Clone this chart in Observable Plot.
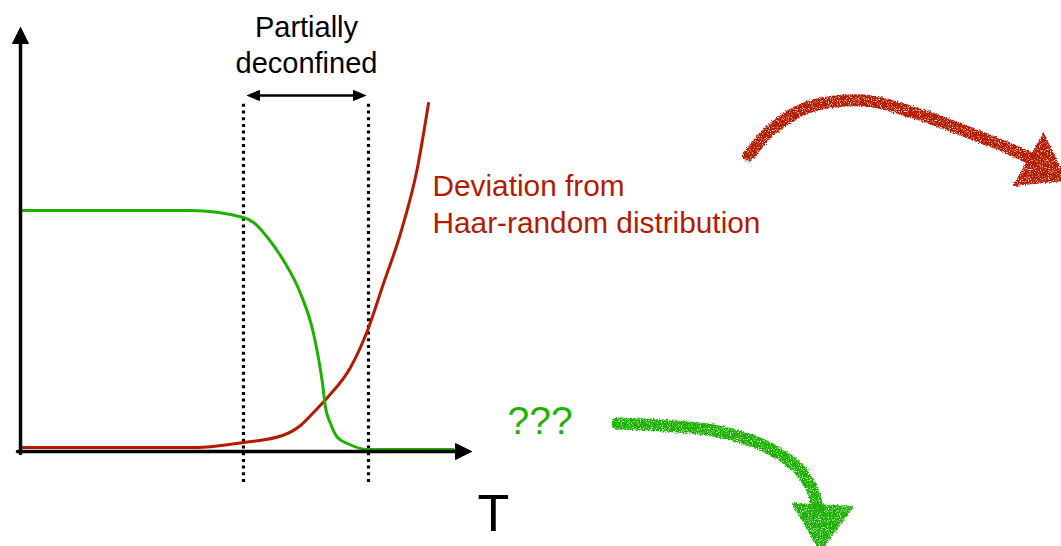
<!DOCTYPE html>
<html>
<head>
<meta charset="utf-8">
<script src="https://cdn.jsdelivr.net/npm/d3@7"></script>
<script src="https://cdn.jsdelivr.net/npm/@observablehq/plot@0.6"></script>
<style>
  html, body { margin: 0; padding: 0; background: #fff; }
  #chart svg { display: block; }
</style>
</head>
<body>
<div id="chart"></div>
<script>
// Schematic: order parameter vs. temperature T, with the partially
// deconfined window marked between two dotted guides.

const GREEN = "#1db100";
const RED = "#b51a00";
const FONT = "Helvetica, 'Liberation Sans', Arial, sans-serif";

// Curves as [T, value] pairs
const greenCurve = [
  [0.02, 2.41], [1.70, 2.41], [2.23, 2.34], [2.33, 2.29], [2.47, 2.14],
  [2.63, 1.91], [2.80, 1.58], [2.93, 1.18], [3.02, 0.68], [3.05, 0.44],
  [3.10, 0.28], [3.17, 0.14], [3.27, 0.08], [3.47, 0.02], [4.33, 0.02]
];
const redCurve = [
  [0.02, 0.04], [1.73, 0.04], [2.23, 0.09], [2.62, 0.16], [2.80, 0.26],
  [2.93, 0.39], [3.07, 0.54], [3.30, 0.84], [3.47, 1.21], [3.63, 1.68],
  [3.80, 2.18], [3.97, 2.84], [4.08, 3.48]
];

// Axes (line + filled arrowhead)
const yAxisLine = [[0, -0.02], [0, 4.12]];
const yAxisHead = [[0, 4.24], [-0.08, 4.08], [0.08, 4.08], [0, 4.24]];
const xAxisLine = [[-0.03, 0], [4.38, 0]];
const xAxisHead = [[4.51, 0], [4.35, 0.08], [4.35, -0.08], [4.51, 0]];

// Partially deconfined window
const dividers = [2.23, 3.48];
const dividerSpan = [-0.31, 3.48];
const spanLine = [[2.34, 3.56], [3.38, 3.56]];
const spanHeadLeft = [[2.27, 3.56], [2.39, 3.61], [2.39, 3.51], [2.27, 3.56]];
const spanHeadRight = [[3.45, 3.56], [3.33, 3.61], [3.33, 3.51], [3.45, 3.56]];

// Hand-drawn arrows on the right
const redArrow = [
  [7.28, 2.96], [7.50, 3.21], [7.87, 3.44], [8.43, 3.51], [8.93, 3.39],
  [9.43, 3.21], [9.93, 3.01], [10.12, 2.92]
];
const redArrowHead = [[10.23, 3.18], [9.93, 2.66], [10.46, 2.71], [10.23, 3.18]];
const greenArrow = [
  [5.97, 0.28], [6.43, 0.26], [6.93, 0.21], [7.43, 0.06], [7.77, -0.16],
  [7.92, -0.39], [7.97, -0.56]
];
const greenArrowHead = [[7.72, -0.52], [8.33, -0.55], [8.00, -1.0], [7.72, -0.52]];

// Labels
const labels = [
  {T: 2.86, v: 3.79, text: "Partially\ndeconfined", color: "#000", size: 29, anchor: "middle"},
  {T: 4.12, v: 2.19, text: "Deviation from\nHaar-random distribution", color: RED, size: 29.8, anchor: "start"},
  {T: 4.87, v: 0.18, text: "???", color: GREEN, size: 39, anchor: "start"},
  {T: 4.57, v: -0.79, text: "T", color: "#000", size: 52, anchor: "start"}
];

const X = d => d[0], Y = d => d[1];
const poly = (data, fill, tag) =>
  Plot.line(data, {x: X, y: Y, fill, stroke: fill, strokeWidth: 1,
    strokeLinejoin: "round", ariaDescription: tag});

const chart = Plot.plot({
  width: 1061,
  height: 546,
  margin: 0,
  x: {domain: [-0.2, 10.41], axis: null},
  y: {domain: [-0.95, 4.51], axis: null},
  style: {background: "#fff", fontFamily: FONT},
  marks: [
    // dotted guides
    Plot.ruleX(dividers, {x: d => d, y1: () => dividerSpan[0], y2: () => dividerSpan[1],
      stroke: "#000", strokeWidth: 3.2, strokeDasharray: "3,3.7"}),
    // span arrow
    Plot.line(spanLine, {x: X, y: Y, stroke: "#000", strokeWidth: 2.5}),
    poly(spanHeadLeft, "#000", "span head"),
    poly(spanHeadRight, "#000", "span head"),
    // curves
    Plot.line(redCurve, {x: X, y: Y, stroke: RED, strokeWidth: 3, curve: "monotone-x"}),
    Plot.line(greenCurve, {x: X, y: Y, stroke: GREEN, strokeWidth: 3, curve: "monotone-x"}),
    // axes
    Plot.line(yAxisLine, {x: X, y: Y, stroke: "#000", strokeWidth: 3.5}),
    poly(yAxisHead, "#000", "axis head"),
    Plot.line(xAxisLine, {x: X, y: Y, stroke: "#000", strokeWidth: 3.5}),
    poly(xAxisHead, "#000", "axis head"),
    // hand-drawn arrows
    Plot.line(redArrow, {x: X, y: Y, stroke: RED, strokeWidth: 12, strokeLinecap: "round",
      curve: "catmull-rom", ariaDescription: "crayon"}),
    poly(redArrowHead, RED, "crayon"),
    Plot.line(greenArrow, {x: X, y: Y, stroke: GREEN, strokeWidth: 12, strokeLinecap: "round",
      curve: "catmull-rom", ariaDescription: "crayon"}),
    poly(greenArrowHead, GREEN, "crayon"),
    // labels
    ...labels.map(l => Plot.text([l], {
      x: "T", y: "v", text: "text", fill: l.color, fontSize: l.size,
      textAnchor: l.anchor, lineAnchor: "bottom", lineHeight: 1.22, fontFamily: FONT
    }))
  ]
});

// Crayon texture for the hand-drawn arrows
const svg = d3.select(chart);
const defs = svg.insert("defs", ":first-child");
const f = defs.append("filter").attr("id", "crayon")
  .attr("x", "-10%").attr("y", "-10%").attr("width", "120%").attr("height", "120%");
f.append("feTurbulence").attr("type", "fractalNoise").attr("baseFrequency", 0.7)
  .attr("numOctaves", 2).attr("seed", 3).attr("result", "noise");
f.append("feDisplacementMap").attr("in", "SourceGraphic").attr("in2", "noise")
  .attr("scale", 4).attr("xChannelSelector", "R").attr("yChannelSelector", "G").attr("result", "rough");
f.append("feTurbulence").attr("type", "fractalNoise").attr("baseFrequency", 0.9)
  .attr("numOctaves", 1).attr("seed", 7).attr("result", "grain");
f.append("feColorMatrix").attr("in", "grain").attr("type", "matrix")
  .attr("values", "0 0 0 0 0  0 0 0 0 0  0 0 0 0 0  0 0 0 -4.5 3.4").attr("result", "mask");
f.append("feComposite").attr("in", "rough").attr("in2", "mask").attr("operator", "in");
svg.selectAll('g[aria-description="crayon"]').attr("filter", "url(#crayon)");

document.getElementById("chart").appendChild(chart);
</script>
</body>
</html>
